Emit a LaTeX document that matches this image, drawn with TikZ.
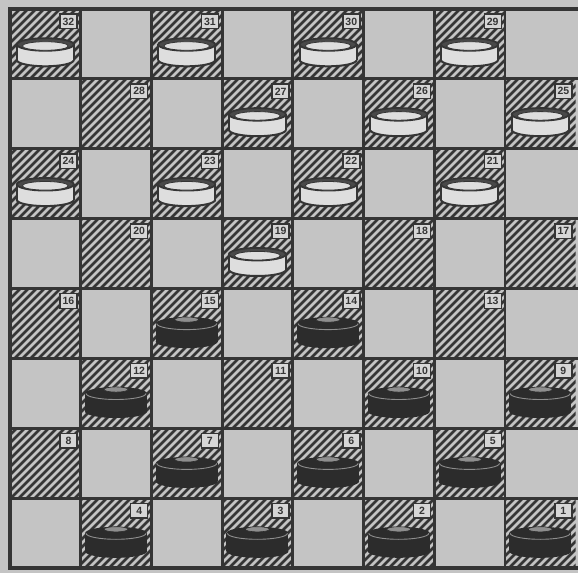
\documentclass[tikz,border=0pt]{standalone}
\usepackage{fontspec}
\setsansfont{Liberation Sans}
\definecolor{paper}{HTML}{C4C4C4}
\definecolor{ink}{HTML}{353535}
\definecolor{wpc}{HTML}{DEDEDE}
\definecolor{bpc}{HTML}{2C2C2C}
\definecolor{hl}{HTML}{8E8E8E}
\definecolor{lab}{HTML}{D6D6D6}
\tikzset{
  numbox/.style={draw=ink, fill=lab, line width=1.4pt, inner sep=0pt,
    minimum width=17pt, minimum height=14.5pt, anchor=north east,
    font=\sffamily\bfseries\fontsize{10.5}{10.5}\selectfont, text=ink},
  gridline/.style={draw=ink, line width=2.8pt},
  hatchline/.style={draw=ink, line width=2.7pt},
  whitepc/.pic={
    \fill[wpc] (0,-15.5) ellipse [x radius=28.5pt, y radius=6.3pt];
    \draw[ink, line width=2pt] (-28.5,-15.5) arc [start angle=180, end angle=360, x radius=28.5pt, y radius=6.3pt];
    \fill[wpc] (-28.5,-15.5) rectangle (28.5,0);
    \draw[ink, line width=2pt] (-28.5,-15.5) -- (-28.5,0) (28.5,-15.5) -- (28.5,0);
    \filldraw[fill=ink!90, draw=ink, line width=1.8pt] (0,0) ellipse [x radius=28.5pt, y radius=6.3pt];
    \filldraw[fill=wpc, draw=ink, line width=0.8pt] (0,-1.5) ellipse [x radius=23pt, y radius=4.3pt];
  },
  blackpc/.pic={
    \fill[bpc] (0,-18) ellipse [x radius=31pt, y radius=6.5pt];
    \fill[bpc] (-31,-18) rectangle (31,0);
    \fill[bpc] (0,0) ellipse [x radius=31pt, y radius=6.5pt];
    \draw[hl, line width=0.9pt] (-30,0) arc [start angle=180, end angle=360, x radius=30pt, y radius=6pt];
    \filldraw[fill=hl, draw=bpc, line width=0.6pt] (0,4) ellipse [x radius=12pt, y radius=2.6pt];
  }
}
\begin{document}
\begin{tikzpicture}[x=1pt,y=1pt]
\useasboundingbox (0,0) rectangle (578,573);
\fill[paper] (0,0) rectangle (578,573);
% hatching of the dark squares
\begin{scope}
  \clip \foreach \r in {0,...,7} { \foreach \k [evaluate=\k as \c using {2*\k+mod(\r,2)}] in {0,...,3} {
      ({10+\c*70.7},{564-\r*69.9}) rectangle ({10+(\c+1)*70.7},{564-(\r+1)*69.9}) } };
  \foreach \a in {-75,...,75} { \draw[hatchline] ({\a*8},0) -- ++(600,600); }
\end{scope}
% grid
\foreach \i in {1,...,7} {
  \draw[gridline] ({10+\i*70.7},4.7) -- ({10+\i*70.7},564);
  \draw[gridline] (10,{564-\i*69.9}) -- (585,{564-\i*69.9});
}
\draw[ink, line width=4pt] (10,4.7) rectangle (585,564);
% square numbers
\foreach \r in {0,...,7} { \foreach \k in {0,...,3} {
  \pgfmathtruncatemacro\c{2*\k+mod(\r,2)}
  \pgfmathtruncatemacro\n{32-4*\r-\k}
  \node[numbox] (L\n) at ({10+(\c+1)*70.7-3},{564-\r*69.9-4.5}) {\n};
} }
% pieces
\foreach \n/\kind/\dy in {32/whitepc/35.5,31/whitepc/35.5,30/whitepc/35.5,29/whitepc/35.5,27/whitepc/35.5,26/whitepc/35.5,25/whitepc/35.5,24/whitepc/35.5,23/whitepc/35.5,22/whitepc/35.5,21/whitepc/35.5,19/whitepc/35.5,
  15/blackpc/35,14/blackpc/35,12/blackpc/35,10/blackpc/35,9/blackpc/35,7/blackpc/35,6/blackpc/35,5/blackpc/35,4/blackpc/35,3/blackpc/35,2/blackpc/35,1/blackpc/35} {
  \pgfmathtruncatemacro\r{(32-\n)/4}
  \pgfmathtruncatemacro\k{mod(32-\n,4)}
  \pgfmathtruncatemacro\c{2*\k+mod(\r,2)}
  \pic (P\n) at ({10+\c*70.7+35.3},{564-\r*69.9-\dy}) {\kind};
}
\end{tikzpicture}
\end{document}
